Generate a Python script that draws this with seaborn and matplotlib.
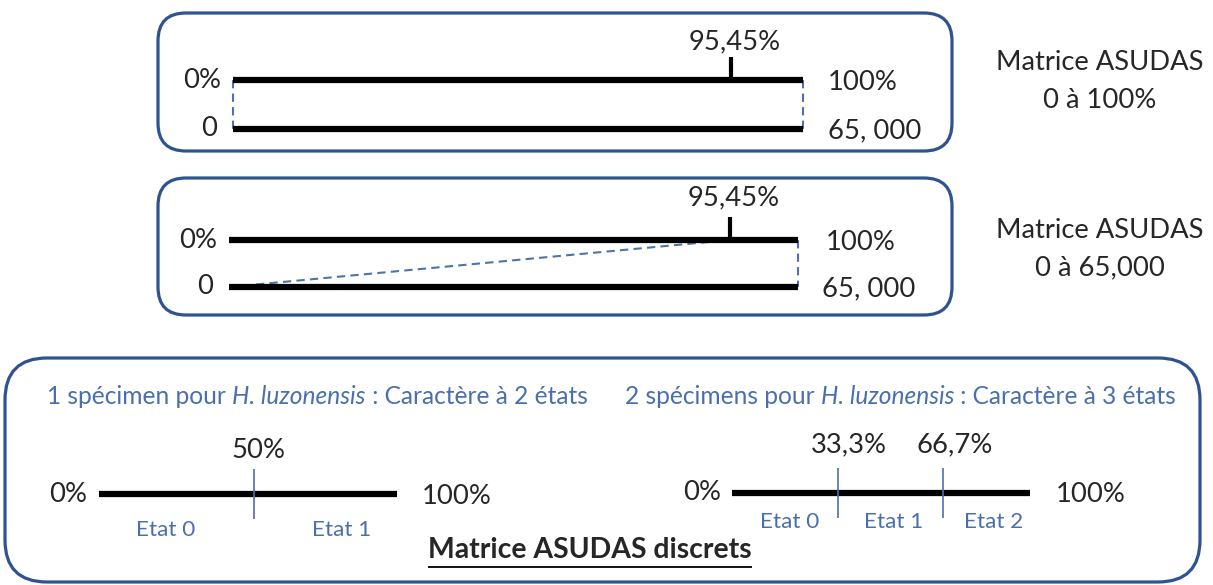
import matplotlib
matplotlib.use("Agg")
import matplotlib.pyplot as plt
import seaborn as sns
import pandas as pd
from matplotlib.patches import FancyBboxPatch

# ---------------- data ----------------
pct_end_labels = ["0%", "100%"]
abs_end_labels = ["0", "65, 000"]
cont_marker_label = "95,45%"
cont_marker_drawn = [87.4, 88.0]          # where the marker is drawn along each bar (% of bar)
cont_titles = [["Matrice ASUDAS", "0 à 100%"], ["Matrice ASUDAS", "0 à 65,000"]]

disc_headers = [("1 spécimen pour ", "H. luzonensis", " : Caractère à 2 états"),
                ("2 spécimens pour ", "H. luzonensis", " : Caractère à 3 états")]
disc_cut_labels = [["50%"], ["33,3%", "66,7%"]]
disc_cut_drawn = [[52.0], [35.6, 70.8]]   # drawn positions of the cuts (% of bar)
disc_state_labels = [["Etat 0", "Etat 1"], ["Etat 0", "Etat 1", "Etat 2"]]
disc_state_pos = [[22.5, 81.5], [19.5, 54.4, 87.9]]
disc_title = "Matrice ASUDAS discrets"

# ---------------- style ----------------
sns.set_theme(style="white")
plt.rcParams["font.family"] = ["Lato", "DejaVu Sans"]
W, H = 1213, 585
BOX = "#2F5290"
BLUE = "#4A6FAE"
DASH = "#4F72AE"

fig = plt.figure(figsize=(W / 100, H / 100), dpi=100)
ax = fig.add_axes([0, 0, 1, 1])
ax.set_xlim(0, W)
ax.set_ylim(H, 0)
ax.axis("off")
renderer = fig.canvas.get_renderer()


def fit(text, target, **kw):
    t = ax.text(0, 0, text, fontsize=20, **kw)
    w = t.get_window_extent(renderer).width
    t.remove()
    return 20 * target / w


S_BIG = fit("Matrice ASUDAS", 208)
S_HEAD = fit("2 spécimens pour H. luzonensis : Caractère à 3 états", 562)
S_STATE = fit("Etat 0", 59)
S_TITLE = fit(disc_title, 324, fontweight="bold")


def seg_plot(xs, ys, color, lw, dashed=False):
    df = pd.DataFrame({"x": xs, "y": ys})
    sns.lineplot(data=df, x="x", y="y", ax=ax, color=color, lw=lw, sort=False,
                 estimator=None, linestyle=(0, (4, 2.5)) if dashed else "-",
                 solid_capstyle="butt", legend=False)


def box(x0, y0, x1, y1, r):
    ax.add_patch(FancyBboxPatch((x0, y0), x1 - x0, y1 - y0,
                                boxstyle=f"round,pad=0,rounding_size={r}",
                                fc="none", ec=BOX, lw=2.3))


def px(pct, x0, x1):
    return x0 + pct / 100.0 * (x1 - x0)


# ---------------- continuous boxes ----------------
cont_layout = [
    dict(box=(158, 13, 952, 151), x0=233, x1=803, ytop=80, ybot=129, ylab=42, diag=False,
         tx=1100, ty=(62, 100)),
    dict(box=(158, 178, 952, 315), x0=229, x1=798, ytop=240, ybot=287, ylab=198, diag=True,
         tx=1100, ty=(230, 268)),
]
for i, L in enumerate(cont_layout):
    box(*L["box"], 28)
    x0, x1, yt, yb = L["x0"], L["x1"], L["ytop"], L["ybot"]
    mx = px(cont_marker_drawn[i], x0, x1)
    if L["diag"]:
        seg_plot([x0, mx], [yb, yt], DASH, 1.5, dashed=True)
    else:
        seg_plot([x0, x0], [yt, yb], DASH, 1.5, dashed=True)
    seg_plot([x1, x1], [yt, yb], DASH, 1.5, dashed=True)
    seg_plot([x0, x1], [yt, yt], "black", 4.5)
    seg_plot([x0, x1], [yb, yb], "black", 4.5)
    seg_plot([mx, mx], [yt - 23, yt], "black", 3.0)
    ax.text(mx + 4, L["ylab"], cont_marker_label, fontsize=S_BIG, ha="center", va="center")
    ax.text(x0 - 12, yt, pct_end_labels[0], fontsize=S_BIG, ha="right", va="center")
    ax.text(x0 - 16, yb, abs_end_labels[0], fontsize=S_BIG, ha="right", va="center")
    ax.text(828 if i == 0 else 826, yt + 2, pct_end_labels[1], fontsize=S_BIG, ha="left", va="center")
    ax.text(828 if i == 0 else 822, yb + 2, abs_end_labels[1], fontsize=S_BIG, ha="left", va="center")
    for t, y in zip(cont_titles[i], L["ty"]):
        ax.text(L["tx"], y, t, fontsize=S_BIG, ha="center", va="center")

# ---------------- discrete box ----------------
box(5, 358, 1200, 582, 42)
disc_layout = [
    dict(hx=47, x0=99, x1=397, y=494, ylab=450, lab_dx=[4], left_r=87, right_l=422, ystate=530),
    dict(hx=625, x0=732, x1=1030, y=493, ylab=445, lab_dx=[11, 12], left_r=721, right_l=1056, ystate=522),
]
for i, L in enumerate(disc_layout):
    x = L["hx"]
    for part, style in zip(disc_headers[i], ["normal", "italic", "normal"]):
        t = ax.text(x, 397, part, fontsize=S_HEAD, color=BLUE, style=style, ha="left", va="center")
        bb = t.get_window_extent(renderer)
        x += bb.width
    x0, x1, y = L["x0"], L["x1"], L["y"]
    seg_plot([x0, x1], [y, y], "black", 4.5)
    for p, lab, dx in zip(disc_cut_drawn[i], disc_cut_labels[i], L["lab_dx"]):
        cx = px(p, x0, x1)
        seg_plot([cx, cx], [y - 25, y + 25], BLUE, 1.2)
        ax.text(cx + dx, L["ylab"], lab, fontsize=S_BIG, ha="center", va="center")
    ax.text(L["left_r"], y, pct_end_labels[0], fontsize=S_BIG, ha="right", va="center")
    ax.text(L["right_l"], y + 2, pct_end_labels[1], fontsize=S_BIG, ha="left", va="center")
    for p, lab in zip(disc_state_pos[i], disc_state_labels[i]):
        ax.text(px(p, x0, x1), L["ystate"], lab, fontsize=S_STATE, color=BLUE, ha="center", va="center")

tt = ax.text(590, 550, disc_title, fontsize=S_TITLE, fontweight="bold", ha="center", va="center")
bb = tt.get_window_extent(renderer)
seg_plot([bb.x0, bb.x1], [567, 567], "black", 1.3)

fig.savefig("out.png", dpi=100)
